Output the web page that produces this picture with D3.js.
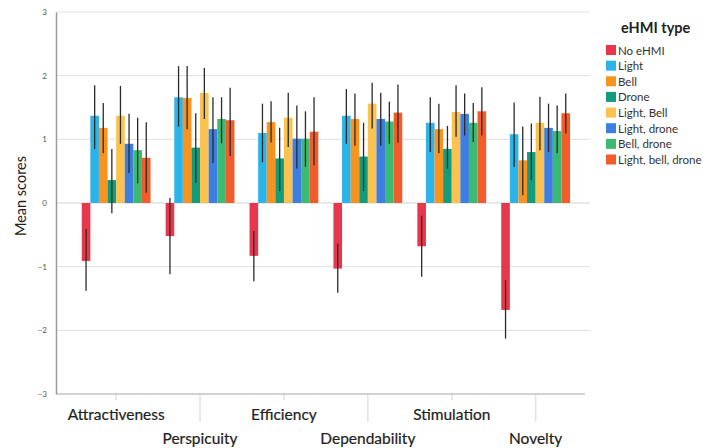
<!DOCTYPE html>
<html>
<head>
<meta charset="utf-8">
<script src="https://cdn.jsdelivr.net/npm/d3@7"></script>
<style>
html,body{margin:0;padding:0;background:#fff;}
svg{display:block;font-family:Lato, "Open Sans", sans-serif;}
</style>
</head>
<body>
<svg id="chart" width="703" height="448"></svg>
<script>
// ---- data ----
const categories = ["Attractiveness","Perspicuity","Efficiency","Dependability","Stimulation","Novelty"];
const types = ["No eHMI","Light","Bell","Drone","Light, Bell","Light, drone","Bell, drone","Light, bell, drone"];
const colors = ["#e6374d","#2bb4ea","#f7931e","#119c7e","#fcc24f","#3c7fe0","#3dba72","#f25c2a"];
const yTicks = [-3,-2,-1,0,1,2,3];

const noEHMI     = [-0.91,-0.52,-0.83,-1.03,-0.68,-1.68];
const light      = [ 1.37, 1.66, 1.10, 1.37, 1.26, 1.08];
const bell       = [ 1.18, 1.65, 1.27, 1.32, 1.16, 0.67];
const drone      = [ 0.36, 0.87, 0.70, 0.73, 0.85, 0.80];
const lightBell  = [ 1.37, 1.73, 1.34, 1.56, 1.43, 1.26];
const lightDrone = [ 0.93, 1.16, 1.01, 1.32, 1.40, 1.18];
const bellDrone  = [ 0.83, 1.32, 1.01, 1.28, 1.26, 1.13];
const lightBellDrone = [0.71, 1.30, 1.12, 1.42, 1.44, 1.41];

// error bar lower / upper ends
const noEHMILo = [-1.38,-1.12,-1.23,-1.41,-1.16,-2.13], noEHMIHi = [-0.41, 0.08,-0.44,-0.64,-0.20,-1.21];
const lightLo  = [0.85,1.20,0.64,0.93,0.80,0.57],       lightHi  = [1.85,2.15,1.56,1.79,1.66,1.58];
const bellLo   = [0.78,1.16,0.95,0.90,0.78,0.12],       bellHi   = [1.57,2.15,1.60,1.72,1.56,1.20];
const droneLo  = [-0.16,0.32,0.19,0.19,0.54,0.36],      droneHi  = [0.85,1.41,1.18,1.26,1.21,1.25];
const lightBellLo  = [0.93,1.32,0.88,1.17,1.04,0.83],   lightBellHi  = [1.84,2.12,1.73,1.89,1.85,1.67];
const lightDroneLo = [0.47,0.63,0.54,0.90,1.06,0.80],   lightDroneHi = [1.40,1.66,1.53,1.73,1.72,1.56];
const bellDroneLo  = [0.31,0.94,0.57,0.93,0.96,0.78],   bellDroneHi  = [1.34,1.66,1.44,1.59,1.57,1.53];
const lbdLo = [0.16,0.74,0.59,0.95,1.06,1.09],          lbdHi = [1.27,1.81,1.66,1.86,1.82,1.72];

const means = [noEHMI, light, bell, drone, lightBell, lightDrone, bellDrone, lightBellDrone];
const lows  = [noEHMILo, lightLo, bellLo, droneLo, lightBellLo, lightDroneLo, bellDroneLo, lbdLo];
const highs = [noEHMIHi, lightHi, bellHi, droneHi, lightBellHi, lightDroneHi, bellDroneHi, lbdHi];

const rows = [];
categories.forEach((c, ci) => types.forEach((t, ti) => rows.push({
  cat: c, type: t, ti, mean: means[ti][ci], lo: lows[ti][ci], hi: highs[ti][ci]
})));

// ---- layout ----
const svg = d3.select("#chart");
const plotL = 56, plotR = 590, plotT = 12, plotB = 394;

const y = d3.scaleLinear().domain([-3, 3]).range([plotB, plotT]);
const x0 = d3.scaleBand().domain(categories).range([74.2, 577.6]).paddingInner(0.18).paddingOuter(0.09);
const x1 = d3.scaleBand().domain(types).range([0, x0.bandwidth()]);
const color = d3.scaleOrdinal().domain(types).range(colors);
const cx = d => x0(d) + x0.bandwidth() / 2;

// top faint frame line
svg.append("line").attr("x1", plotL).attr("x2", plotR).attr("y1", plotT).attr("y2", plotT)
  .attr("stroke", "#ececec").attr("stroke-width", 1.5);

// gridlines
svg.append("g").selectAll("line").data(yTicks.filter(d => d !== 3 && d !== -3)).join("line")
  .attr("x1", plotL).attr("x2", plotR)
  .attr("y1", d => y(d)).attr("y2", d => y(d))
  .attr("stroke", d => d === 0 ? "#d4d4d4" : "#e0e0e0").attr("stroke-width", 1);

// y axis
const yAxis = d3.axisLeft(y).tickValues(yTicks).tickSize(0).tickPadding(9).tickFormat(d3.format("d"));
const gy = svg.append("g").attr("transform", `translate(${plotL},0)`).call(yAxis);
gy.select(".domain").attr("stroke", "#9a9a9a").attr("stroke-width", 1.5);
gy.selectAll("text").attr("font-size", 8).attr("fill", "#555").attr("font-family", "Lato, sans-serif");

// category tick marks (faint, longer for staggered lower labels)
svg.append("g").selectAll("line").data(categories).join("line")
  .attr("x1", d => cx(d)).attr("x2", d => cx(d))
  .attr("y1", plotB).attr("y2", (d, i) => i % 2 === 0 ? plotB + 6 : plotB + 28)
  .attr("stroke", "#e2e2e2").attr("stroke-width", 1.5);

// bottom axis line
svg.append("line").attr("x1", plotL).attr("x2", 585).attr("y1", plotB).attr("y2", plotB)
  .attr("stroke", "#a8a8a8").attr("stroke-width", 1.2);

// bars
const bars = svg.append("g");
bars.selectAll("rect").data(rows).join("rect")
  .attr("x", d => x0(d.cat) + x1(d.type))
  .attr("width", x1.bandwidth())
  .attr("y", d => y(Math.max(0, d.mean)))
  .attr("height", d => Math.abs(y(d.mean) - y(0)))
  .attr("fill", d => color(d.type));

// error bars
svg.append("g").selectAll("line").data(rows).join("line")
  .attr("x1", d => x0(d.cat) + x1(d.type) + x1.bandwidth() / 2)
  .attr("x2", d => x0(d.cat) + x1(d.type) + x1.bandwidth() / 2)
  .attr("y1", d => y(d.hi)).attr("y2", d => y(d.lo))
  .attr("stroke", "#2a2a2a").attr("stroke-width", 1.3);

// category labels (staggered)
svg.append("g").selectAll("text").data(categories).join("text")
  .attr("x", d => cx(d))
  .attr("y", (d, i) => i % 2 === 0 ? 420 : 443.5)
  .attr("text-anchor", "middle")
  .attr("font-size", 15.5).attr("fill", "#222")
  .attr("stroke", "#222").attr("stroke-width", 0.2)
  .text(d => d);

// y axis title
svg.append("text")
  .attr("transform", "translate(26,196) rotate(-90)")
  .attr("text-anchor", "middle")
  .attr("font-size", 14.5).attr("fill", "#222")
  .text("Mean scores");

// legend
const lg = svg.append("g");
lg.append("text").attr("x", 621).attr("y", 33).attr("font-size", 14.5).attr("font-weight", "bold")
  .attr("fill", "#222").text("eHMI type");
const legendY = d3.scalePoint().domain(types).range([50, 159.5]);
const items = lg.selectAll("g.item").data(types).join("g").attr("class", "item")
  .attr("transform", d => `translate(606,${legendY(d)})`);
items.append("rect").attr("x", 0).attr("y", -5).attr("width", 10).attr("height", 10)
  .attr("fill", d => color(d));
items.append("text").attr("x", 12).attr("y", 4.5).attr("font-size", 11.5).attr("fill", "#333")
  .text(d => d);
</script>
</body>
</html>
